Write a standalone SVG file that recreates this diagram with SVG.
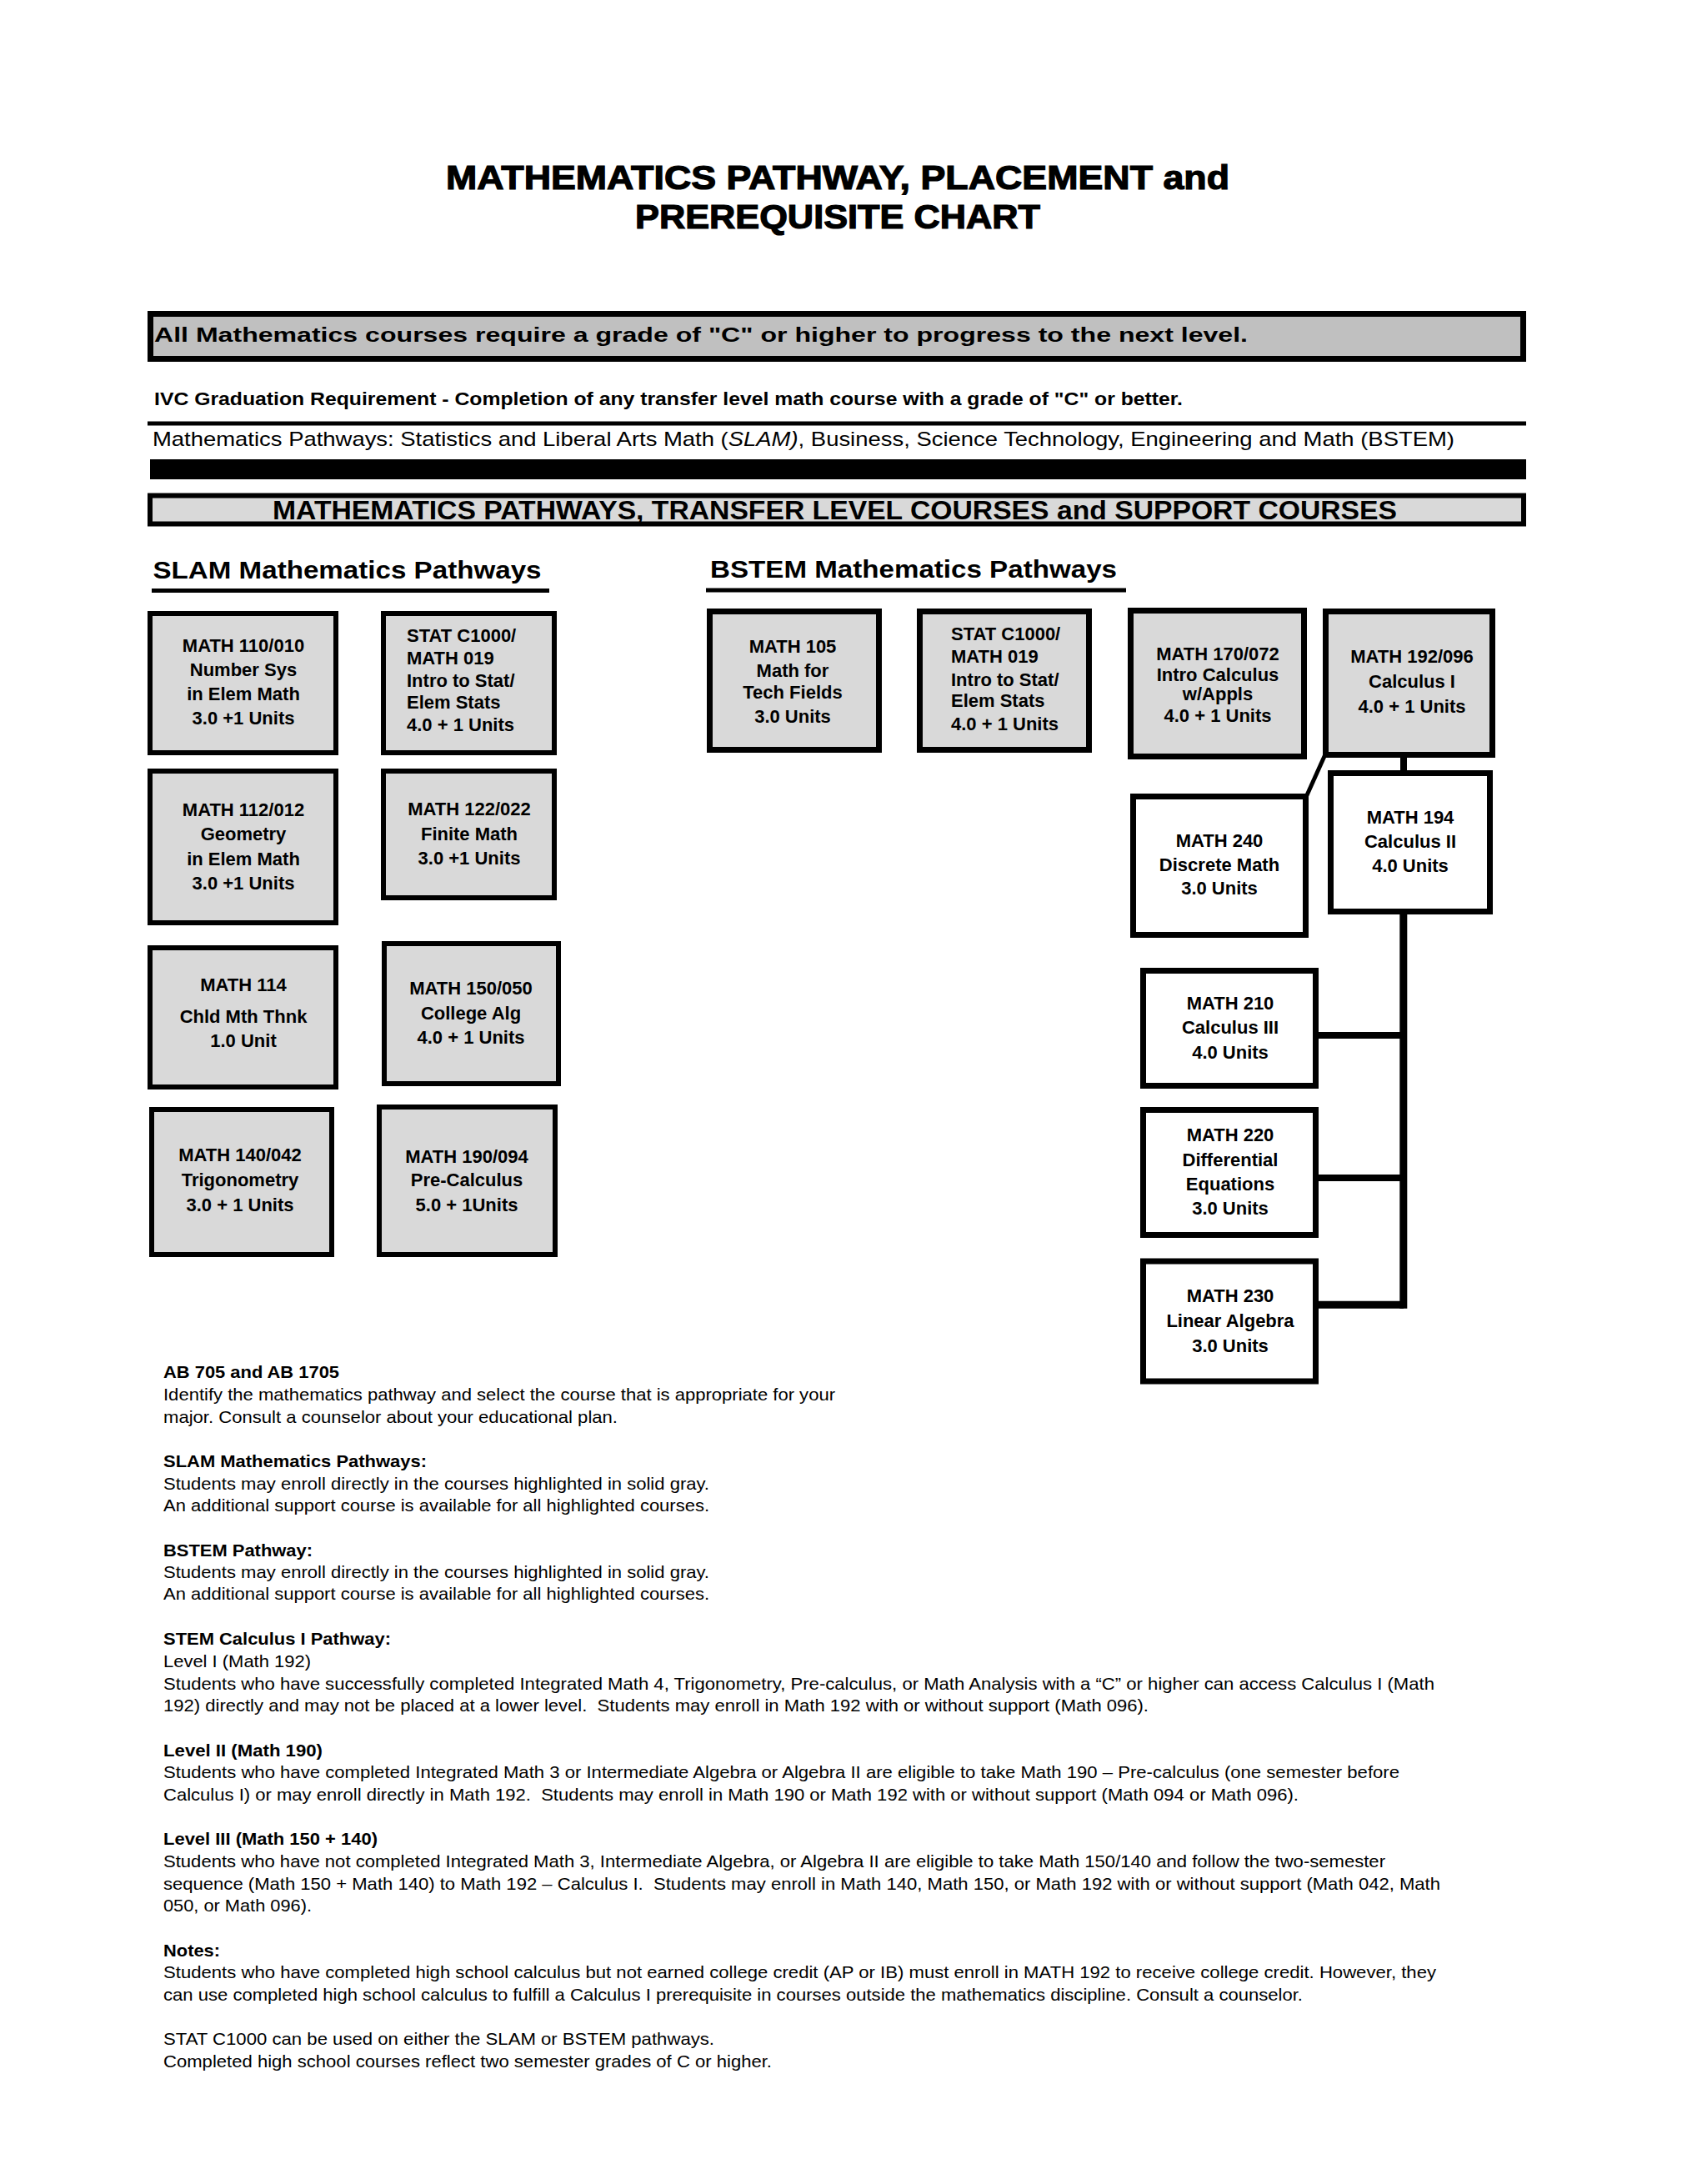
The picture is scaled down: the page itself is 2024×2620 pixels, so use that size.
<svg xmlns="http://www.w3.org/2000/svg" width="2024" height="2620" viewBox="0 0 2024 2620">
<style>
text { font-family: "Liberation Sans", Arial, sans-serif; fill: #000; }
.b { font-weight: bold; }
.bx { stroke: #000; stroke-width: 6; }
.bx7 { stroke: #000; stroke-width: 7; }
.g { fill: #d9d9d9; }
.w { fill: #fff; }
.bc { font-weight: bold; font-size: 22px; text-anchor: middle; }
.bl { font-weight: bold; font-size: 22px; }
.body { font-size: 21px; }
.hd { font-weight: bold; font-size: 29px; }
.cn { stroke: #000; fill: none; }
.ttl { font-weight: bold; font-size: 40px; text-anchor: middle; stroke: #000; stroke-width: 1.2; }
</style>
<rect width="2024" height="2620" fill="#fff"/>

<g id="title">
  <text class="ttl" x="1005" y="227" textLength="940" lengthAdjust="spacingAndGlyphs">MATHEMATICS PATHWAY, PLACEMENT and</text>
  <text class="ttl" x="1005" y="274" textLength="486" lengthAdjust="spacingAndGlyphs">PREREQUISITE CHART</text>
</g>

<g id="banner-grade">
  <rect x="180.5" y="376.5" width="1647" height="54" fill="#c0c0c0" stroke="#000" stroke-width="7"/>
  <text class="b" x="185" y="410" font-size="24" textLength="1312" lengthAdjust="spacingAndGlyphs">All Mathematics courses require a grade of "C" or higher to progress to the next level.</text>
</g>

<g id="graduation">
  <text class="b" x="185" y="486" font-size="21.5" textLength="1234" lengthAdjust="spacingAndGlyphs">IVC Graduation Requirement - Completion of any transfer level math course with a grade of "C" or better.</text>
  <rect x="177" y="505.5" width="1654" height="5" fill="#000"/>
  <text x="183" y="535" font-size="24" textLength="1562" lengthAdjust="spacingAndGlyphs">Mathematics Pathways: Statistics and Liberal Arts Math (<tspan font-style="italic">SLAM)</tspan>, Business, Science Technology, Engineering and Math (BSTEM)</text>
  <rect x="180" y="551" width="1651" height="24" fill="#000"/>
</g>

<g id="banner-pathways">
  <rect x="180" y="594.5" width="1648" height="34" fill="#d9d9d9" stroke="#000" stroke-width="6"/>
  <text class="b" x="1001.5" y="623" font-size="31" text-anchor="middle" textLength="1349" lengthAdjust="spacingAndGlyphs">MATHEMATICS PATHWAYS, TRANSFER LEVEL COURSES and SUPPORT COURSES</text>
</g>

<g id="slam-heading">
  <text class="hd" x="183.5" y="694" textLength="466" lengthAdjust="spacingAndGlyphs">SLAM Mathematics Pathways</text>
  <rect x="182" y="706" width="477" height="5" fill="#000"/>
</g>
<g id="bstem-heading">
  <text class="hd" x="852" y="693" textLength="488" lengthAdjust="spacingAndGlyphs">BSTEM Mathematics Pathways</text>
  <rect x="847" y="705.5" width="504" height="5" fill="#000"/>
</g>

<g id="connectors">
  <line class="cn" x1="1684" y1="906" x2="1684" y2="928" stroke-width="8"/>
  <line class="cn" x1="1590" y1="905" x2="1567.5" y2="955" stroke-width="5"/>
  <line class="cn" x1="1683.8" y1="1093" x2="1683.8" y2="1569.8" stroke-width="9"/>
  <line class="cn" x1="1580" y1="1242" x2="1684" y2="1242" stroke-width="8"/>
  <line class="cn" x1="1580" y1="1413" x2="1684" y2="1413" stroke-width="8"/>
  <line class="cn" x1="1580" y1="1565.3" x2="1684" y2="1565.3" stroke-width="9"/>
</g>

<g id="math110">
  <rect class="bx g" x="180" y="736" width="223" height="167"/>
  <text class="bc" x="292" y="782">MATH 110/010</text>
  <text class="bc" x="292" y="811">Number Sys</text>
  <text class="bc" x="292" y="840">in Elem Math</text>
  <text class="bc" x="292" y="869">3.0 +1 Units</text>
</g>
<g id="stat-slam">
  <rect class="bx g" x="460" y="736" width="205" height="167"/>
  <text class="bl" x="488" y="770">STAT C1000/</text>
  <text class="bl" x="488" y="797">MATH 019</text>
  <text class="bl" x="488" y="824">Intro to Stat/</text>
  <text class="bl" x="488" y="850">Elem Stats</text>
  <text class="bl" x="488" y="877">4.0 + 1 Units</text>
</g>
<g id="math112">
  <rect class="bx g" x="180" y="925" width="223" height="182"/>
  <text class="bc" x="292" y="979">MATH 112/012</text>
  <text class="bc" x="292" y="1008">Geometry</text>
  <text class="bc" x="292" y="1038">in Elem Math</text>
  <text class="bc" x="292" y="1067">3.0 +1 Units</text>
</g>
<g id="math122">
  <rect class="bx g" x="460" y="925" width="205" height="152"/>
  <text class="bc" x="563" y="978">MATH 122/022</text>
  <text class="bc" x="563" y="1008">Finite Math</text>
  <text class="bc" x="563" y="1037">3.0 +1 Units</text>
</g>
<g id="math114">
  <rect class="bx g" x="180" y="1137" width="223" height="167"/>
  <text class="bc" x="292" y="1189">MATH 114</text>
  <text class="bc" x="292" y="1227">Chld Mth Thnk</text>
  <text class="bc" x="292" y="1256">1.0 Unit</text>
</g>
<g id="math150">
  <rect class="bx g" x="461" y="1132" width="209" height="168"/>
  <text class="bc" x="565" y="1193">MATH 150/050</text>
  <text class="bc" x="565" y="1223">College Alg</text>
  <text class="bc" x="565" y="1252">4.0 + 1 Units</text>
</g>
<g id="math140">
  <rect class="bx g" x="182" y="1331" width="216" height="174"/>
  <text class="bc" x="288" y="1393">MATH 140/042</text>
  <text class="bc" x="288" y="1423">Trigonometry</text>
  <text class="bc" x="288" y="1453">3.0 + 1 Units</text>
</g>
<g id="math190">
  <rect class="bx g" x="455" y="1328" width="211" height="177"/>
  <text class="bc" x="560" y="1395">MATH 190/094</text>
  <text class="bc" x="560" y="1423">Pre-Calculus</text>
  <text class="bc" x="560" y="1453">5.0 + 1Units</text>
</g>

<g id="math105">
  <rect class="bx7 g" x="851.5" y="733.5" width="203" height="166"/>
  <text class="bc" x="951" y="783">MATH 105</text>
  <text class="bc" x="951" y="812">Math for</text>
  <text class="bc" x="951" y="838">Tech Fields</text>
  <text class="bc" x="951" y="867">3.0 Units</text>
</g>
<g id="stat-bstem">
  <rect class="bx7 g" x="1103.5" y="733.5" width="203" height="166"/>
  <text class="bl" x="1141" y="768">STAT C1000/</text>
  <text class="bl" x="1141" y="795">MATH 019</text>
  <text class="bl" x="1141" y="823">Intro to Stat/</text>
  <text class="bl" x="1141" y="848">Elem Stats</text>
  <text class="bl" x="1141" y="876">4.0 + 1 Units</text>
</g>
<g id="math170">
  <rect class="bx7 g" x="1356.5" y="732.5" width="208" height="175"/>
  <text class="bc" x="1461" y="792">MATH 170/072</text>
  <text class="bc" x="1461" y="817">Intro Calculus</text>
  <text class="bc" x="1461" y="840">w/Appls</text>
  <text class="bc" x="1461" y="866">4.0 + 1 Units</text>
</g>
<g id="math192">
  <rect class="bx7 g" x="1590.5" y="733.5" width="200" height="172"/>
  <text class="bc" x="1694" y="795">MATH 192/096</text>
  <text class="bc" x="1694" y="825">Calculus I</text>
  <text class="bc" x="1694" y="855">4.0 + 1 Units</text>
</g>
<g id="math194">
  <rect class="bx7 w" x="1596.5" y="927.5" width="191" height="166"/>
  <text class="bc" x="1692" y="988">MATH 194</text>
  <text class="bc" x="1692" y="1017">Calculus II</text>
  <text class="bc" x="1692" y="1046">4.0 Units</text>
</g>
<g id="math240">
  <rect class="bx7 w" x="1359.5" y="955.5" width="207" height="166"/>
  <text class="bc" x="1463" y="1016">MATH 240</text>
  <text class="bc" x="1463" y="1045">Discrete Math</text>
  <text class="bc" x="1463" y="1073">3.0 Units</text>
</g>
<g id="math210">
  <rect class="bx7 w" x="1371.5" y="1164.5" width="207" height="138"/>
  <text class="bc" x="1476" y="1211">MATH 210</text>
  <text class="bc" x="1476" y="1240">Calculus III</text>
  <text class="bc" x="1476" y="1270">4.0 Units</text>
</g>
<g id="math220">
  <rect class="bx7 w" x="1371.5" y="1331.5" width="207" height="150"/>
  <text class="bc" x="1476" y="1369">MATH 220</text>
  <text class="bc" x="1476" y="1399">Differential</text>
  <text class="bc" x="1476" y="1428">Equations</text>
  <text class="bc" x="1476" y="1457">3.0 Units</text>
</g>
<g id="math230">
  <rect class="bx7 w" x="1371.5" y="1513" width="207" height="144"/>
  <text class="bc" x="1476" y="1562">MATH 230</text>
  <text class="bc" x="1476" y="1592">Linear Algebra</text>
  <text class="bc" x="1476" y="1622">3.0 Units</text>
</g>

<g id="notes" class="body">
  <text class="b" x="196" y="1653" font-size="21" textLength="211" lengthAdjust="spacingAndGlyphs">AB 705 and AB 1705</text>
  <text x="196" y="1680" font-size="21" textLength="806" lengthAdjust="spacingAndGlyphs">Identify the mathematics pathway and select the course that is appropriate for your</text>
  <text x="196" y="1707" font-size="21" textLength="545" lengthAdjust="spacingAndGlyphs">major. Consult a counselor about your educational plan.</text>
  <text class="b" x="196" y="1760" font-size="21" textLength="316" lengthAdjust="spacingAndGlyphs">SLAM Mathematics Pathways:</text>
  <text x="196" y="1787" font-size="21" textLength="655" lengthAdjust="spacingAndGlyphs">Students may enroll directly in the courses highlighted in solid gray.</text>
  <text x="196" y="1813" font-size="21" textLength="655" lengthAdjust="spacingAndGlyphs">An additional support course is available for all highlighted courses.</text>
  <text class="b" x="196" y="1867" font-size="21" textLength="179" lengthAdjust="spacingAndGlyphs">BSTEM Pathway:</text>
  <text x="196" y="1893" font-size="21" textLength="655" lengthAdjust="spacingAndGlyphs">Students may enroll directly in the courses highlighted in solid gray.</text>
  <text x="196" y="1919" font-size="21" textLength="655" lengthAdjust="spacingAndGlyphs">An additional support course is available for all highlighted courses.</text>
  <text class="b" x="196" y="1973" font-size="21" textLength="273" lengthAdjust="spacingAndGlyphs">STEM Calculus I Pathway:</text>
  <text x="196" y="2000" font-size="21" textLength="177" lengthAdjust="spacingAndGlyphs">Level I (Math 192)</text>
  <text x="196" y="2027" font-size="21" textLength="1525" lengthAdjust="spacingAndGlyphs">Students who have successfully completed Integrated Math 4, Trigonometry, Pre-calculus, or Math Analysis with a “C” or higher can access Calculus I (Math</text>
  <text x="196" y="2053" font-size="21" textLength="1182" lengthAdjust="spacingAndGlyphs" xml:space="preserve">192) directly and may not be placed at a lower level.  Students may enroll in Math 192 with or without support (Math 096).</text>
  <text class="b" x="196" y="2107" font-size="21" textLength="191" lengthAdjust="spacingAndGlyphs">Level II (Math 190)</text>
  <text x="196" y="2133" font-size="21" textLength="1483" lengthAdjust="spacingAndGlyphs">Students who have completed Integrated Math 3 or Intermediate Algebra or Algebra II are eligible to take Math 190 – Pre-calculus (one semester before</text>
  <text x="196" y="2160" font-size="21" textLength="1362" lengthAdjust="spacingAndGlyphs" xml:space="preserve">Calculus I) or may enroll directly in Math 192.  Students may enroll in Math 190 or Math 192 with or without support (Math 094 or Math 096).</text>
  <text class="b" x="196" y="2213" font-size="21" textLength="257" lengthAdjust="spacingAndGlyphs">Level III (Math 150 + 140)</text>
  <text x="196" y="2240" font-size="21" textLength="1466" lengthAdjust="spacingAndGlyphs">Students who have not completed Integrated Math 3, Intermediate Algebra, or Algebra II are eligible to take Math 150/140 and follow the two-semester</text>
  <text x="196" y="2267" font-size="21" textLength="1532" lengthAdjust="spacingAndGlyphs" xml:space="preserve">sequence (Math 150 + Math 140) to Math 192 – Calculus I.  Students may enroll in Math 140, Math 150, or Math 192 with or without support (Math 042, Math</text>
  <text x="196" y="2293" font-size="21" textLength="178" lengthAdjust="spacingAndGlyphs">050, or Math 096).</text>
  <text class="b" x="196" y="2347" font-size="21" textLength="68" lengthAdjust="spacingAndGlyphs">Notes:</text>
  <text x="196" y="2373" font-size="21" textLength="1527" lengthAdjust="spacingAndGlyphs">Students who have completed high school calculus but not earned college credit (AP or IB) must enroll in MATH 192 to receive college credit. However, they</text>
  <text x="196" y="2400" font-size="21" textLength="1367" lengthAdjust="spacingAndGlyphs">can use completed high school calculus to fulfill a Calculus I prerequisite in courses outside the mathematics discipline. Consult a counselor.</text>
  <text x="196" y="2453" font-size="21" textLength="661" lengthAdjust="spacingAndGlyphs">STAT C1000 can be used on either the SLAM or BSTEM pathways.</text>
  <text x="196" y="2480" font-size="21" textLength="730" lengthAdjust="spacingAndGlyphs">Completed high school courses reflect two semester grades of C or higher.</text>
</g>
</svg>
